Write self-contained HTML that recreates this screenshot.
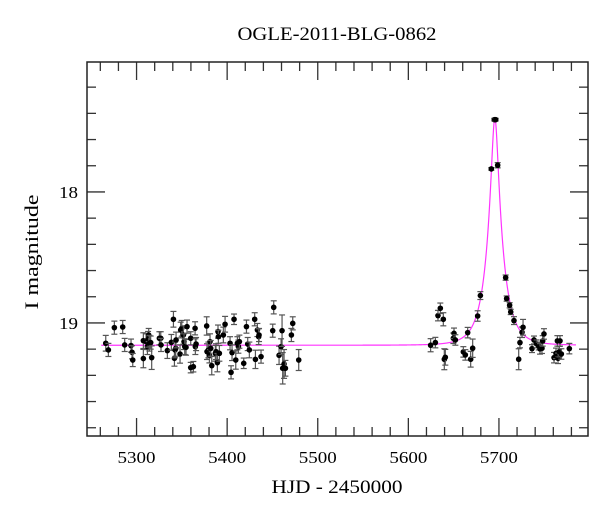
<!DOCTYPE html>
<html><head><meta charset="utf-8"><style>
html,body{margin:0;padding:0;background:#fff;}
svg{display:block;font-family:"Liberation Serif",serif;}
</style></head><body>
<svg id="chart" width="600" height="512" viewBox="0 0 600 512" xmlns="http://www.w3.org/2000/svg">
<text x="337" y="40" text-anchor="middle" font-size="19" textLength="199" lengthAdjust="spacingAndGlyphs">OGLE-2011-BLG-0862</text>
<text transform="translate(38,252) rotate(-90)" text-anchor="middle" font-size="19" textLength="115" lengthAdjust="spacingAndGlyphs">I magnitude</text>
<text x="337" y="493" text-anchor="middle" font-size="19" textLength="131" lengthAdjust="spacingAndGlyphs">HJD - 2450000</text>
<g id="ticks"></g>
<g id="model"></g>
<g id="pts"></g>
<rect x="87" y="62" width="501" height="374" fill="none" stroke="#222" stroke-width="1.5"/>
</svg>
<script>
const hjd = [5266,5268.9,5275.5,5284.7,5286.9,5293.9,5295.0,5295.8,5307.5,5307.5,5310.5,5312.0,5312.7,5313.4,5314.2,5315.6,5316.7,5325.2,5326.7,5327.0,5334.0,5338.4,5340.7,5341.8,5342.5,5343.2,5343.6,5348.0,5348.7,5349.9,5351.7,5352.4,5353.2,5354.6,5355.7,5359.8,5359.8,5362.7,5364.6,5364.9,5365.7,5377.4,5377.8,5379.3,5380.4,5381.1,5381.9,5383.0,5387.0,5387.7,5389.2,5389.9,5390.3,5391.4,5395.8,5397.7,5403.2,5404.3,5405.4,5407.6,5409.5,5411.3,5412.4,5413.5,5418.3,5421.3,5422.7,5424.5,5430.4,5431.2,5433.4,5434.8,5435.2,5437.4,5451.4,5450.3,5457.3,5459.5,5460.6,5461.3,5462.8,5464.3,5470.9,5472.4,5479.0,
5624.6,5629.8,5632.7,5635.3,5638.6,5639.7,5640.8,5649.7,5650.4,5651.9,5660.7,5662.9,5665.5,5668.8,5671.0,5676.5,5679.5,5691.6,5694.9,5696.4,5698.6,5707.4,5708.5,5711.8,5713.0,5716.6,5721.8,5723.2,5725.5,5726.6,5736.5,5738.7,5741.6,5743.9,5745.3,5747.5,5748.3,5749.7,5760.8,5763.0,5764.5,5765.2,5766.7,5767.4,5768.9,5777.7];
const mag = [19.155,19.206,19.036,19.031,19.168,19.173,19.224,19.283,19.135,19.272,19.143,19.181,19.125,19.092,19.155,19.150,19.265,19.117,19.117,19.168,19.211,19.148,18.972,19.270,19.206,19.194,19.130,19.237,19.054,19.041,19.092,19.143,19.181,19.186,19.028,19.117,19.341,19.334,19.041,19.181,19.161,19.023,19.219,19.206,19.245,19.143,19.194,19.326,19.232,19.219,19.303,19.066,19.105,19.232,19.092,19.010,19.155,19.377,19.227,18.972,19.283,19.155,19.181,19.143,19.308,19.028,19.161,19.206,18.972,19.278,19.054,19.105,19.092,19.257,18.881,19.059,19.247,19.181,19.059,19.346,19.313,19.346,19.092,19.003,19.283,
19.170,19.150,18.944,18.888,18.972,19.277,19.262,19.117,19.079,19.130,19.221,19.244,19.074,19.277,19.193,18.947,18.791,17.824,17.448,17.448,17.796,18.654,18.814,18.865,18.916,18.982,19.277,19.150,19.071,19.033,19.196,19.130,19.160,19.176,19.198,19.193,19.137,19.084,19.265,19.232,19.137,19.270,19.219,19.137,19.237,19.196];
const magErr = [0.06,0.05,0.05,0.05,0.05,0.05,0.05,0.05,0.06,0.07,0.06,0.06,0.06,0.05,0.06,0.05,0.09,0.05,0.05,0.05,0.06,0.06,0.06,0.06,0.06,0.06,0.06,0.07,0.06,0.06,0.07,0.06,0.06,0.06,0.05,0.05,0.04,0.04,0.05,0.06,0.05,0.07,0.06,0.06,0.06,0.06,0.06,0.07,0.06,0.06,0.07,0.05,0.05,0.06,0.06,0.06,0.05,0.05,0.06,0.04,0.07,0.05,0.05,0.05,0.04,0.05,0.05,0.06,0.05,0.07,0.05,0.06,0.05,0.05,0.05,0.05,0.07,0.06,0.12,0.12,0.11,0.06,0.05,0.05,0.08,
0.05,0.04,0.04,0.04,0.05,0.08,0.06,0.04,0.04,0.04,0.04,0.04,0.04,0.06,0.07,0.04,0.03,0.01,0.01,0.01,0.02,0.02,0.02,0.02,0.02,0.03,0.08,0.04,0.04,0.06,0.03,0.03,0.03,0.03,0.04,0.04,0.04,0.04,0.04,0.04,0.04,0.04,0.04,0.04,0.04,0.04];
const xTickLabels = [5300,5400,5500,5600,5700];
const yTickLabels = [18,19];
// model parameters (Paczynski): t0, u0, tE, baseline I
const modelT0 = 5695.5, modelU0 = 0.206, modelTE = 17.3, modelBase = 19.17;
const modelRange = [5261, 5785];

const X0=87,X1=588,Y0=62,Y1=436, D0=5245.3, D1=5798.3, M0=17.008, M1=19.863;
const xs = d => X0 + (d-D0)/(D1-D0)*(X1-X0);
const ys = m => Y0 + (m-M0)/(M1-M0)*(Y1-Y0);
const NS='http://www.w3.org/2000/svg';
function mk(tag, attrs, parent){const e=document.createElementNS(NS,tag);for(const k in attrs)e.setAttribute(k,attrs[k]);parent.appendChild(e);return e;}
const tg=document.getElementById('ticks');
for(let d=5260; d<=5790; d+=20){
  const major = d%100===0, L = major?18:9, x=xs(d);
  const t1=mk('line',{x1:x,y1:Y1,x2:x,y2:Y1-L,stroke:'#333','stroke-width':1.3},tg);
  
  
  const t2=mk('line',{x1:x,y1:Y0,x2:x,y2:Y0+L,stroke:'#333','stroke-width':1.3},tg);
  
  
}
xTickLabels.forEach(v=>{
  const t=mk('text',{x:xs(v),y:463,'text-anchor':'middle','font-size':17,textLength:38,lengthAdjust:'spacingAndGlyphs'},tg);
  t.textContent=v;
  
  
});
for(let i=1;i<=14;i++){
  const m=17+i*0.2; if(m>M1) break;
  const major = Math.abs(m-Math.round(m))<1e-6, L=major?18:9, y=ys(m);
  const t1=mk('line',{x1:X0,y1:y,x2:X0+L,y2:y,stroke:'#333','stroke-width':1.3},tg);
  
  
  const t2=mk('line',{x1:X1,y1:y,x2:X1-L,y2:y,stroke:'#333','stroke-width':1.3},tg);
  
  
}
yTickLabels.forEach(v=>{
  const t=mk('text',{x:78,y:ys(v)+6,'text-anchor':'end','font-size':17,textLength:19,lengthAdjust:'spacingAndGlyphs'},tg);
  t.textContent=v;
  
  
});
// model
let dpath='';
for(let t=modelRange[0]; t<=modelRange[1]; t+=0.25){
  const u=Math.sqrt(modelU0*modelU0+Math.pow((t-modelT0)/modelTE,2));
  const A=(u*u+2)/(u*Math.sqrt(u*u+4));
  const m=modelBase-2.5*Math.log10(A);
  dpath+=(dpath?'L':'M')+xs(t).toFixed(2)+' '+ys(m).toFixed(2);
}
const mp=mk('path',{d:dpath,fill:'none',stroke:'#ff33ff','stroke-width':1.2},document.getElementById('model'));


// points
const pg=document.getElementById('pts');
hjd.forEach((d,i)=>{
  const x=xs(d), ya=ys(mag[i]-magErr[i]), yb=ys(mag[i]+magErr[i]);
  const g=mk('g',{},pg);
  
  
  mk('line',{x1:x,y1:ya,x2:x,y2:yb,stroke:'#555','stroke-width':1.2},g);
  mk('line',{x1:x-3,y1:ya,x2:x+3,y2:ya,stroke:'#555','stroke-width':1.2},g);
  mk('line',{x1:x-3,y1:yb,x2:x+3,y2:yb,stroke:'#555','stroke-width':1.2},g);
  mk('circle',{cx:x,cy:ys(mag[i]),r:2.8,fill:'#000'},g);
});
</script>
</body></html>
